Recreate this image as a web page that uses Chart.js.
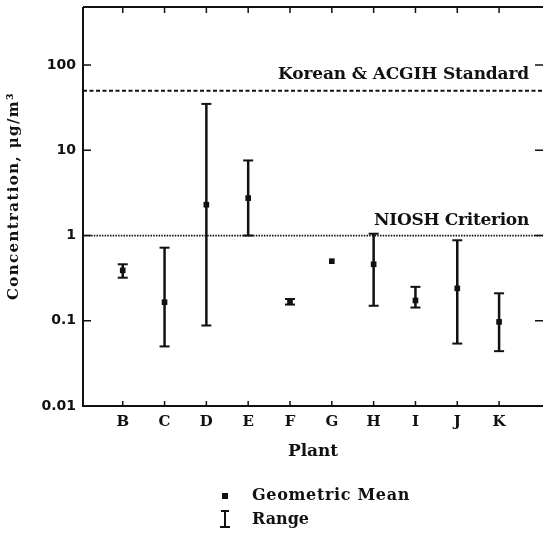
<!DOCTYPE html>
<html>
<head>
<meta charset="utf-8">
<script src="https://cdn.jsdelivr.net/npm/chart.js@4"></script>
<style>
  html, body { margin: 0; padding: 0; background: #fff; overflow: hidden; }
  #wrap { width: 550px; height: 534px; }
</style>
</head>
<body>
<div id="wrap"><canvas id="plant-chart"></canvas></div>
<script>
// values (log scale, ug/m3)
const plants = ['B', 'C', 'D', 'E', 'F', 'G', 'H', 'I', 'J', 'K']
const geoMean = [0.39, 0.165, 2.3, 2.75, 0.165, 0.5, 0.46, 0.173, 0.24, 0.097]
const rangeMax = [0.46, 0.72, 35, 7.6, 0.18, null, 1.05, 0.25, 0.88, 0.21]
const rangeMin = [0.32, 0.05, 0.088, 1.0, 0.155, null, 0.15, 0.143, 0.054, 0.044]
const yTickValues = [0.01, 0.1, 1, 10, 100]
const yTickLabels = ['0.01', '0.1', '1', '10', '100']
const koreanStandard = 50
const nioshCriterion = 1

const ink = '#111'
const serif = '"DejaVu Serif", "Liberation Serif", serif'
const chartCanvas = document.getElementById('plant-chart')

// text stretched to the width it has in the scan
const fitText = (ctx, text, x, y, width, font) => {
  ctx.font = font
  ctx.letterSpacing = '0px'
  const natural = ctx.measureText(text).width
  ctx.letterSpacing = ((width - natural) / text.length) + 'px'
  ctx.textAlign = 'left'
  ctx.textBaseline = 'middle'
  ctx.fillText(text, x, y)
  ctx.letterSpacing = '0px'
}

const rangeSets = plants.map((p, i) => ({
  type: 'line',
  data: rangeMax[i] == null ? [] : [{ x: i + 1, y: rangeMin[i] }, { x: i + 1, y: rangeMax[i] }],
  borderColor: ink,
  borderWidth: 2.5,
  pointStyle: 'line',
  pointRadius: 5,
  pointBorderWidth: 2,
  pointBorderColor: ink,
  pointBackgroundColor: ink
}))

const frame = {
  id: 'frame',
  afterDatasetsDraw (chart) {
    const { ctx, chartArea: a, scales: { x, y } } = chart
    ctx.save()
    ctx.strokeStyle = ink
    ctx.fillStyle = ink
    ctx.lineWidth = 2
    ctx.beginPath()
    ctx.moveTo(a.left, a.top)
    ctx.lineTo(a.left, a.bottom)
    ctx.lineTo(a.right, a.bottom)
    ctx.moveTo(a.left, a.top)
    ctx.lineTo(a.right, a.top)
    ctx.stroke()

    ctx.lineWidth = 1.5
    ctx.beginPath()
    yTickValues.slice(1).forEach(v => {
      const py = y.getPixelForValue(v)
      ctx.moveTo(a.left, py); ctx.lineTo(a.left + 8, py)
      ctx.moveTo(a.right - 8, py); ctx.lineTo(a.right, py)
    })
    plants.forEach((p, i) => {
      const px = x.getPixelForValue(i + 1)
      ctx.moveTo(px, a.top); ctx.lineTo(px, a.top + 6)
      ctx.moveTo(px, a.bottom - 5); ctx.lineTo(px, a.bottom)
    })
    ctx.stroke()

    // reference line labels
    const labelFont = 'bold 17px ' + serif
    fitText(ctx, 'Korean & ACGIH Standard', a.right - 265, y.getPixelForValue(koreanStandard) - 16, 251, labelFont)
    fitText(ctx, 'NIOSH Criterion', a.right - 169, y.getPixelForValue(nioshCriterion) - 15, 155, labelFont)

    // axis titles
    fitText(ctx, 'Plant', 288, 452, 50, 'bold 17px ' + serif)
    ctx.save()
    ctx.translate(14, 196)
    ctx.rotate(-Math.PI / 2)
    fitText(ctx, 'Concentration, \u03bcg/m\u00b3', -104, 0, 208, 'bold 15px ' + serif)
    ctx.restore()

    // legend
    ctx.fillRect(222, 493, 6, 6)
    ctx.lineWidth = 2
    ctx.beginPath()
    ctx.moveTo(225, 511); ctx.lineTo(225, 527)
    ctx.moveTo(221, 511); ctx.lineTo(229, 511)
    ctx.moveTo(220, 527); ctx.lineTo(230, 527)
    ctx.stroke()
    fitText(ctx, 'Geometric Mean', 252, 496, 158, 'bold 16px ' + serif)
    fitText(ctx, 'Range', 252, 520, 57, 'bold 16px ' + serif)
    ctx.restore()
  }
}

const chart = new Chart(chartCanvas, {
  type: 'scatter',
  data: {
    datasets: [
      ...rangeSets,
      {
        type: 'scatter',
        data: plants.map((p, i) => ({ x: i + 1, y: geoMean[i] })),
        pointStyle: 'rect',
        pointRadius: 4,
        pointBackgroundColor: ink,
        pointBorderWidth: 0
      },
      {
        type: 'line',
        data: [{ x: 0.05, y: koreanStandard }, { x: 11.05, y: koreanStandard }],
        borderColor: ink,
        borderWidth: 2,
        borderDash: [4, 2.5],
        pointRadius: 0
      },
      {
        type: 'line',
        data: [{ x: 0.05, y: nioshCriterion }, { x: 11.05, y: nioshCriterion }],
        borderColor: ink,
        borderWidth: 1.8,
        borderDash: [1.5, 1.2],
        pointRadius: 0
      }
    ]
  },
  options: {
    responsive: true,
    maintainAspectRatio: false,
    animation: false,
    layout: { padding: { top: 7, right: 3, left: 0, bottom: 0 } },
    plugins: {
      legend: { display: false },
      tooltip: { enabled: false }
    },
    scales: {
      x: {
        type: 'linear',
        min: 0.05,
        max: 11.05,
        grid: { display: false, drawTicks: false },
        border: { display: false },
        afterBuildTicks: s => { s.ticks = plants.map((p, i) => ({ value: i + 1 })) },
        afterFit: s => { s.height = 128; s.paddingLeft = 0; s.paddingRight = 0 },
        ticks: {
          autoSkip: false,
          maxRotation: 0,
          padding: 7,
          color: ink,
          font: { family: serif, size: 15, weight: 'bold' },
          callback: v => plants[v - 1] ?? ''
        }
      },
      y: {
        type: 'logarithmic',
        min: 0.01,
        max: 480,
        grid: { display: false, drawTicks: false },
        border: { display: false },
        afterBuildTicks: s => { s.ticks = yTickValues.map(v => ({ value: v })) },
        afterFit: s => { s.width = 83; s.paddingTop = 0; s.paddingBottom = 0 },
        ticks: {
          padding: 7,
          color: ink,
          font: { family: '"DejaVu Sans", sans-serif', size: 14, weight: 'bold' },
          callback: v => yTickLabels[yTickValues.indexOf(v)] ?? ''
        }
      }
    }
  },
  plugins: [frame]
})
</script>
</body>
</html>
